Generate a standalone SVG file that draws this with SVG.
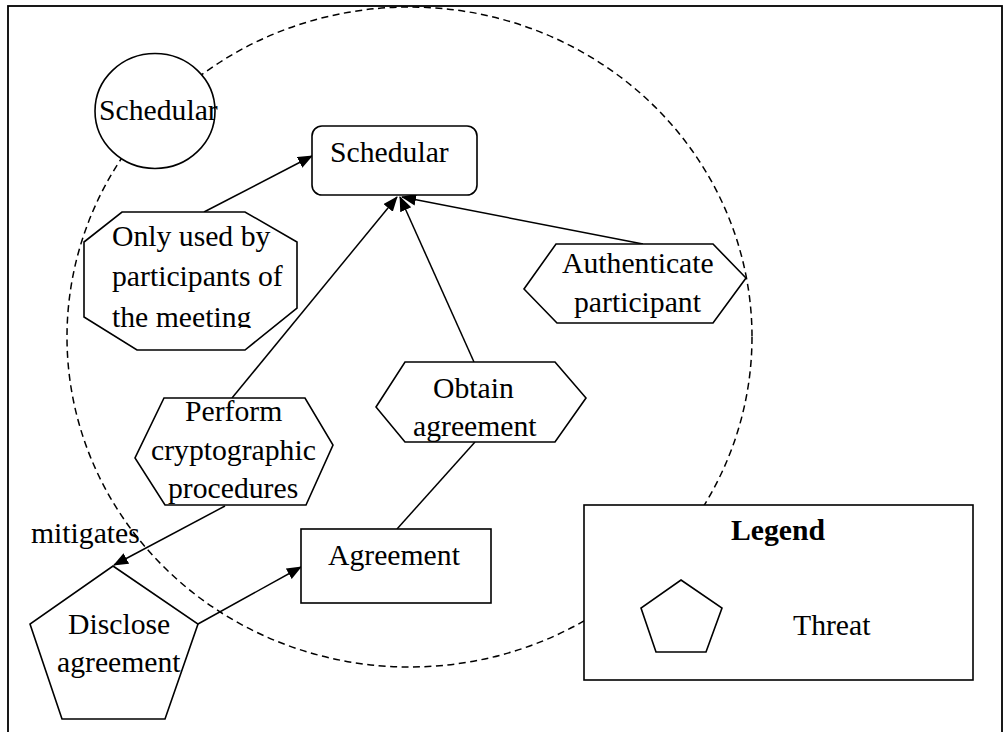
<svg xmlns="http://www.w3.org/2000/svg" width="1005" height="732" viewBox="0 0 1005 732">
<defs>
<style>
.nd{fill:#fff;stroke:#000;stroke-width:1.6}
.t{font-family:"Liberation Serif","Times New Roman",serif;font-size:29.7px;fill:#000}
.b{font-weight:bold}
.c{stroke:#000;stroke-width:1.5;fill:none}
.a{marker-end:url(#ah)}
</style>
<marker id="ah" markerWidth="15" markerHeight="13" refX="14" refY="6" orient="auto" markerUnits="userSpaceOnUse">
<path d="M0,0 L15,6 L0,12 z" fill="#000"/>
</marker>
<clipPath id="clipOct"><rect x="80" y="205" width="230" height="123"/></clipPath>
<clipPath id="clipObt"><rect x="370" y="355" width="230" height="87"/></clipPath>
</defs>
<rect x="8" y="6" width="994" height="740" fill="#fff" stroke="#000" stroke-width="1.8"/>
<ellipse id="boundary" cx="409.5" cy="337" rx="342.5" ry="330" fill="none" stroke="#000" stroke-width="1.5" stroke-dasharray="7,4.5"/>
<g id="connectors">
<line class="c a" x1="204" y1="212" x2="312" y2="156"/>
<line class="c a" x1="232" y1="398" x2="397" y2="197"/>
<line class="c a" x1="474" y1="362" x2="400" y2="197"/>
<line class="c a" x1="643" y1="244" x2="402" y2="197"/>
<line class="c" x1="475" y1="442" x2="397" y2="529"/>
<line class="c a" x1="225" y1="506" x2="114" y2="565"/>
<line class="c a" x1="198" y1="624" x2="301" y2="567"/>
</g>
<g id="schedular-actor">
<ellipse class="nd" cx="155" cy="111" rx="60" ry="57.5"/>
<text class="t" x="99" y="120">Schedular</text>
</g>
<g id="schedular">
<rect class="nd" x="312" y="126" width="165" height="69" rx="10"/>
<text class="t" x="330" y="162">Schedular</text>
</g>
<g id="only-used">
<polygon class="nd" points="122,212 245,212 297,242 297,308 245,350 137,350 84,317 84,242"/>
<g clip-path="url(#clipOct)">
<text class="t" x="112" y="246">Only used by</text>
<text class="t" x="112" y="286">participants of</text>
<text class="t" x="112" y="326.5">the meeting</text>
</g>
</g>
<g id="authenticate">
<polygon class="nd" points="556,244 713,244 746,278 713,323 557,323 524,289"/>
<text class="t" x="562" y="273">Authenticate</text>
<text class="t" x="574" y="312">participant</text>
</g>
<g id="obtain">
<polygon class="nd" points="405,362 555,362 586,398 555,442 405,442 376,407"/>
<g clip-path="url(#clipObt)">
<text class="t" x="433" y="398">Obtain</text>
<text class="t" x="413" y="436">agreement</text>
</g>
</g>
<g id="perform">
<polygon class="nd" points="164,398 305,398 333,445 306,505 165,505 135,458"/>
<text class="t" x="185" y="421">Perform</text>
<text class="t" x="151" y="460">cryptographic</text>
<text class="t" x="168" y="498">procedures</text>
</g>
<g id="mitigates-label">
<text class="t" x="31" y="543">mitigates</text>
</g>
<g id="agreement">
<rect class="nd" x="301" y="529" width="190" height="74"/>
<text class="t" x="328" y="565">Agreement</text>
</g>
<g id="disclose">
<polygon class="nd" points="113,566 198,624 165,719 62,719 30,624"/>
<text class="t" x="68" y="634">Disclose</text>
<text class="t" x="57" y="672">agreement</text>
</g>
<g id="legend">
<rect class="nd" x="584" y="505" width="389" height="175"/>
<text class="t b" x="731" y="540">Legend</text>
<polygon class="nd" points="681,580 722,608 706,652 656,652 641,608"/>
<text class="t" x="793" y="635">Threat</text>
</g>
</svg>
